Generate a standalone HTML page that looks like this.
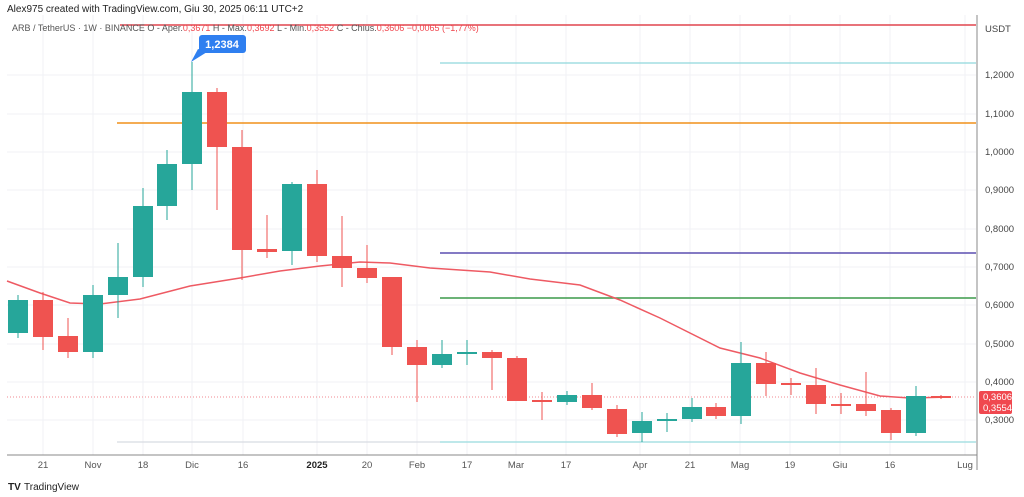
<!DOCTYPE html>
<html><head><meta charset="utf-8"><style>
body{margin:0;width:1024px;height:497px;background:#fff;overflow:hidden;font-family:"Liberation Sans",sans-serif}
svg{display:block}
</style></head><body>
<svg width="1024" height="497" viewBox="0 0 1024 497" font-family="Liberation Sans, sans-serif">
<rect width="1024" height="497" fill="#fff"/>
<g stroke="#f0f2f5" stroke-width="1">
<line x1="7" y1="75" x2="976" y2="75"/><line x1="7" y1="114" x2="976" y2="114"/><line x1="7" y1="152" x2="976" y2="152"/><line x1="7" y1="190" x2="976" y2="190"/><line x1="7" y1="229" x2="976" y2="229"/><line x1="7" y1="267" x2="976" y2="267"/><line x1="7" y1="305" x2="976" y2="305"/><line x1="7" y1="344" x2="976" y2="344"/><line x1="7" y1="382" x2="976" y2="382"/><line x1="7" y1="420" x2="976" y2="420"/>
<line x1="43" y1="15" x2="43" y2="455"/><line x1="93" y1="15" x2="93" y2="455"/><line x1="143" y1="15" x2="143" y2="455"/><line x1="192" y1="15" x2="192" y2="455"/><line x1="243" y1="15" x2="243" y2="455"/><line x1="317" y1="15" x2="317" y2="455"/><line x1="367" y1="15" x2="367" y2="455"/><line x1="417" y1="15" x2="417" y2="455"/><line x1="467" y1="15" x2="467" y2="455"/><line x1="516" y1="15" x2="516" y2="455"/><line x1="566" y1="15" x2="566" y2="455"/><line x1="640" y1="15" x2="640" y2="455"/><line x1="690" y1="15" x2="690" y2="455"/><line x1="740" y1="15" x2="740" y2="455"/><line x1="790" y1="15" x2="790" y2="455"/><line x1="840" y1="15" x2="840" y2="455"/><line x1="890" y1="15" x2="890" y2="455"/><line x1="965" y1="15" x2="965" y2="455"/>
</g>
<line x1="120" y1="25" x2="976" y2="25" stroke="#e0454f" stroke-width="1.5"/>
<line x1="440" y1="63" x2="976" y2="63" stroke="#8fd8dc" stroke-width="1.2"/>
<line x1="117" y1="123" x2="976" y2="123" stroke="#f0901a" stroke-width="1.5"/>
<line x1="440" y1="253" x2="976" y2="253" stroke="#5b4fb0" stroke-width="1.5"/>
<line x1="440" y1="298" x2="976" y2="298" stroke="#3c9a4a" stroke-width="1.5"/>
<line x1="117" y1="442" x2="440" y2="442" stroke="#d8dce2" stroke-width="1.2"/>
<line x1="440" y1="442" x2="976" y2="442" stroke="#a8e0e4" stroke-width="1.5"/>
<line x1="7" y1="397" x2="976" y2="397" stroke="#f08a90" stroke-width="1" stroke-dasharray="1,2"/>
<polyline fill="none" stroke="#ee5a63" stroke-width="1.5" points="7,281 40,293 70,303 100,304 140,299 190,286 240,278 280,271 320,266 360,262 390,263 430,268 490,272 530,279 580,285 620,300 660,318 720,348 760,358 800,373 840,385 880,396 910,398 950,397"/>
<g id="c"></g>
<line x1="7" y1="455" x2="977" y2="455" stroke="#888" stroke-width="1"/>
<line x1="977" y1="15" x2="977" y2="470" stroke="#888" stroke-width="1"/>
<g font-size="9.5" fill="#444">
<text x="985" y="32">USDT</text>
<text x="985" y="78">1,2000</text><text x="985" y="117">1,1000</text><text x="985" y="155">1,0000</text><text x="985" y="193">0,9000</text><text x="985" y="232">0,8000</text><text x="985" y="270">0,7000</text><text x="985" y="308">0,6000</text><text x="985" y="347">0,5000</text><text x="985" y="385">0,4000</text><text x="985" y="423">0,3000</text>
</g>
<rect x="979" y="391" width="33" height="23" rx="2" fill="#f0484f"/>
<text x="983" y="400" font-size="9.5" fill="#fff">0,3606</text>
<text x="983" y="411" font-size="9.5" fill="#fff">0,3554</text>
<g font-size="9.5" fill="#555" text-anchor="middle">
<text x="43" y="468">21</text><text x="93" y="468">Nov</text><text x="143" y="468">18</text><text x="192" y="468">Dic</text><text x="243" y="468">16</text><text x="317" y="468" font-weight="bold" fill="#222">2025</text><text x="367" y="468">20</text><text x="417" y="468">Feb</text><text x="467" y="468">17</text><text x="516" y="468">Mar</text><text x="566" y="468">17</text><text x="640" y="468">Apr</text><text x="690" y="468">21</text><text x="740" y="468">Mag</text><text x="790" y="468">19</text><text x="840" y="468">Giu</text><text x="890" y="468">16</text><text x="965" y="468">Lug</text>
</g>
<text x="7" y="12" font-size="10" fill="#222">Alex975 created with TradingView.com, Giu 30, 2025 06:11 UTC+2</text>
<text x="12" y="31" font-size="9" fill="#555">ARB / TetherUS · 1W · BINANCE  O - Aper.<tspan fill="#f0484f">0,3671</tspan>  H - Max.<tspan fill="#f0484f">0,3692</tspan>  L - Min.<tspan fill="#f0484f">0,3552</tspan>  C - Chius.<tspan fill="#f0484f">0,3606</tspan>  <tspan fill="#f0484f">−0,0065 (−1,77%)</tspan></text>
<rect x="199" y="35" width="47" height="18" rx="3" fill="#2f7ff0"/>
<path d="M198,49 L191,62 L207,52 Z" fill="#2f7ff0"/>
<text x="222" y="48" font-size="11" fill="#fff" text-anchor="middle" font-weight="bold">1,2384</text>
<text x="8" y="490" font-size="10" font-weight="bold" fill="#222">TV</text>
<text x="24" y="490" font-size="10" fill="#222">TradingView</text>
</svg>
<script>
var d=[[18,300,333,295,338,1],[43,300,337,292,350,0],[68,336,352,318,358,0],[93,295,352,285,358,1],[118,277,295,243,318,1],[143,206,277,188,287,1],[167,164,206,150,220,1],[192,92,164,62,190,1],[217,92,147,88,210,0],[242,147,250,130,280,0],[267,249,252,215,258,0],[292,184,251,182,265,1],[317,184,256,170,262,0],[342,256,268,216,287,0],[367,268,278,245,283,0],[392,277,347,277,355,0],[417,347,365,340,402,0],[442,354,365,340,368,1],[467,352,354,340,365,1],[492,352,358,350,390,0],[517,358,401,356,401,0],[542,400,402,392,420,0],[567,395,402,391,405,1],[592,395,408,383,410,0],[617,409,434,405,437,0],[642,421,433,412,442,1],[667,419,421,413,432,1],[692,407,419,398,422,1],[716,407,416,403,419,0],[741,363,416,342,424,1],[766,363,384,352,396,0],[791,383,385,378,395,0],[816,385,404,368,414,0],[841,404,406,393,414,0],[866,404,411,372,416,0],[891,410,433,408,440,0],[916,396,433,386,436,1],[941,396,398,395,399,0]];
var g=document.getElementById('c'),s='';
d.forEach(function(c){var col=c[5]?'#26a69a':'#ef5350';
s+='<line x1="'+c[0]+'" y1="'+c[3]+'" x2="'+c[0]+'" y2="'+c[4]+'" stroke="'+col+'" stroke-width="1"/>';
s+='<rect x="'+(c[0]-10)+'" y="'+c[1]+'" width="20" height="'+Math.max(2,c[2]-c[1])+'" fill="'+col+'"/>';});
g.innerHTML=s;
</script>
</body></html>
